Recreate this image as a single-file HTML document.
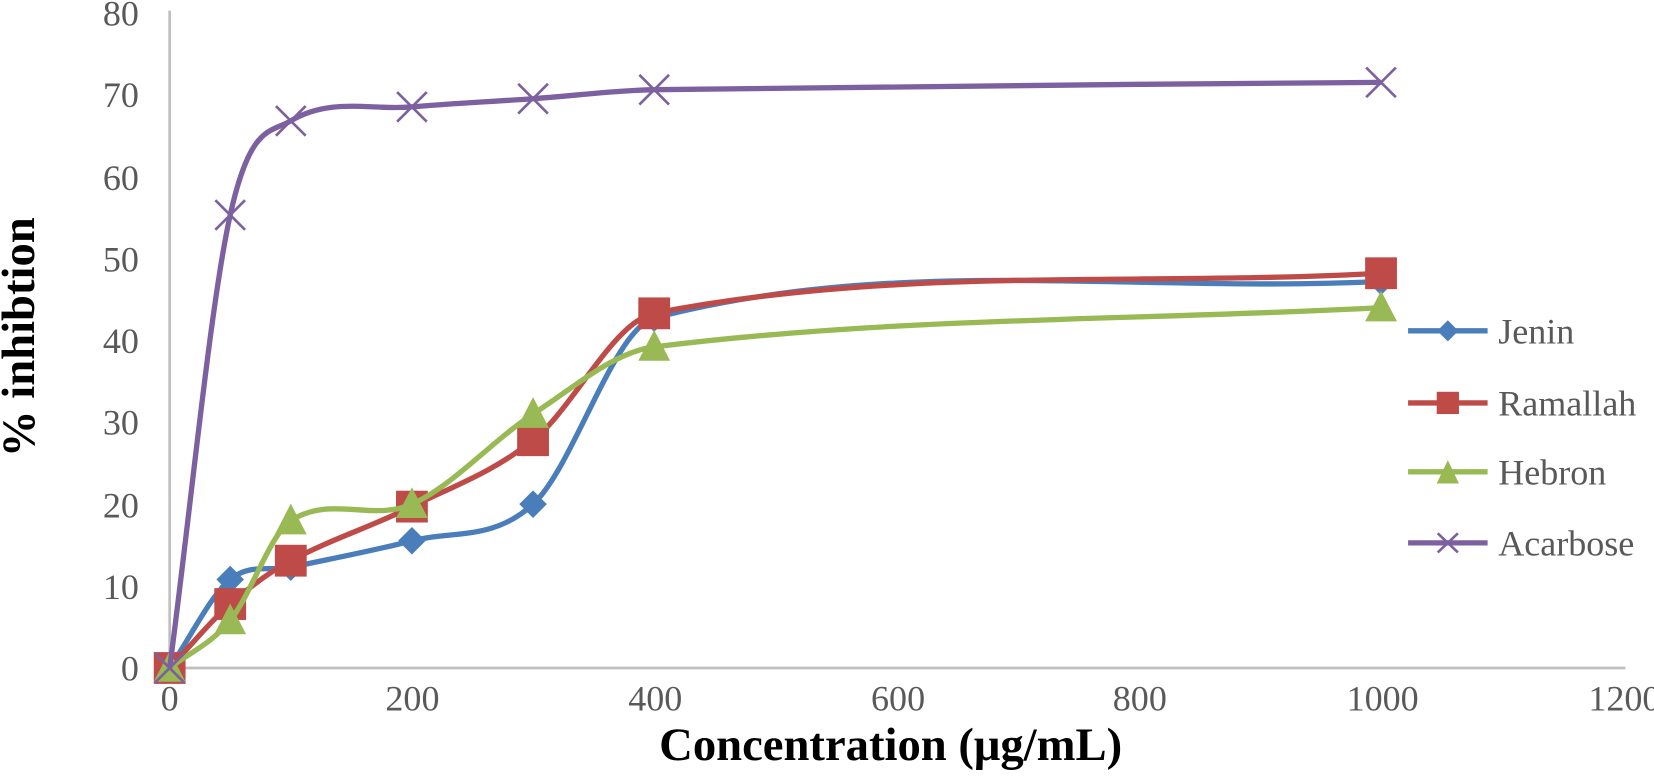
<!DOCTYPE html>
<html><head><meta charset="utf-8"><style>
html,body{margin:0;padding:0;background:#fff;}
svg{display:block;font-family:"Liberation Serif",serif;}
</style></head><body>
<svg width="1654" height="777" viewBox="0 0 1654 777" xmlns="http://www.w3.org/2000/svg">
<g transform="scale(1.0603)">
<line x1="160" y1="10" x2="160" y2="630" stroke="#bfbfbf" stroke-width="2.5"/>
<line x1="160" y1="630" x2="1533" y2="630" stroke="#bfbfbf" stroke-width="2.5"/>
<g fill="#595959" font-size="34" text-anchor="end">
<text x="131" y="642">0</text><text x="131" y="565">10</text><text x="131" y="488">20</text>
<text x="131" y="410">30</text><text x="131" y="333">40</text><text x="131" y="256">50</text>
<text x="131" y="179">60</text><text x="131" y="101">70</text><text x="131" y="24">80</text>
</g>
<g fill="#595959" font-size="34" text-anchor="middle">
<text x="160" y="670">0</text><text x="389" y="670">200</text><text x="618" y="670">400</text>
<text x="847" y="670">600</text><text x="1075" y="670">800</text><text x="1304" y="670">1000</text>
<text x="1532" y="670">1200</text>
</g>
<text x="840" y="717" font-size="44" font-weight="bold" text-anchor="middle" fill="#000">Concentration (μg/mL)</text>
<text transform="translate(32,318) rotate(-90)" font-size="44" font-weight="bold" text-anchor="middle" fill="#000">% inhibtion</text>

<path d="M160 630 C179.03 602.2 198.07 562.4 217.1 546.6 C236.15 530.76 255.2 539.07 274.25 535 C312.33 526.87 350.42 519.92 388.5 510 C426.58 500.08 464.67 510.5 502.75 475.5 C540.83 440.5 578.92 310 617 300 C845.5 239.97 1074 276.9 1302.5 265.4" fill="none" stroke="#4a7ebb" stroke-width="5"/>
<g fill="#4a7ebb">
<path d="M160 617 L173 630 L160 643 L147 630Z"/>
<path d="M217.1 533.6 L230.1 546.6 L217.1 559.6 L204.1 546.6Z"/>
<path d="M274.25 522 L287.25 535 L274.25 548 L261.25 535Z"/>
<path d="M388.5 497 L401.5 510 L388.5 523 L375.5 510Z"/>
<path d="M502.75 462.5 L515.75 475.5 L502.75 488.5 L489.75 475.5Z"/>
<path d="M617 287 L630 300 L617 313 L604 300Z"/>
<path d="M1302.5 252.4 L1315.5 265.4 L1302.5 278.4 L1289.5 265.4Z"/>
</g>

<path d="M160 630 C179.03 609.9 198.07 586.56 217.1 569.7 C236.15 552.83 255.2 539.01 274.25 528.8 C312.33 508.38 350.42 496.73 388.5 477.8 C426.58 458.87 464.67 445.58 502.75 415.2 C540.83 384.82 578.92 303 617 295.5 C845.5 250.5 1074 270.3 1302.5 257.7" fill="none" stroke="#be4b48" stroke-width="5"/>
<g fill="#be4b48">
<rect x="145" y="615" width="30" height="30"/>
<rect x="202.1" y="554.7" width="30" height="30"/>
<rect x="259.25" y="513.8" width="30" height="30"/>
<rect x="373.5" y="462.8" width="30" height="30"/>
<rect x="487.75" y="400.2" width="30" height="30"/>
<rect x="602" y="280.5" width="30" height="30"/>
<rect x="1287.5" y="242.7" width="30" height="30"/>
</g>

<path d="M160 630 C179.03 615.07 198.07 608.35 217.1 585.2 C236.15 562.02 255.2 503.19 274.25 491 C312.33 466.63 350.42 492.25 388.5 475.5 C426.58 458.75 464.67 415.21 502.75 390.5 C540.83 365.79 578.92 331.98 617 327.2 C845.5 298.52 1074 302.46 1302.5 290.1" fill="none" stroke="#98b954" stroke-width="5"/>
<g fill="#98b954">
<path d="M160 614 L175 643 L145 643Z"/>
<path d="M217.1 569.2 L232.1 598.2 L202.1 598.2Z"/>
<path d="M274.25 475 L289.25 504 L259.25 504Z"/>
<path d="M388.5 459.5 L403.5 488.5 L373.5 488.5Z"/>
<path d="M502.75 374.5 L517.75 403.5 L487.75 403.5Z"/>
<path d="M617 311.2 L632 340.2 L602 340.2Z"/>
<path d="M1302.5 274.1 L1317.5 303.1 L1287.5 303.1Z"/>
</g>

<path d="M160 630 C179.03 487.6 198.07 288.74 217.1 202.8 C236.15 116.77 255.2 125.34 274.25 114 C312.33 91.34 350.42 104.28 388.5 100.8 C426.58 97.32 464.67 95.8 502.75 93.1 C540.83 90.4 578.92 85.33 617 84.6 C845.5 80.2 1074 80 1302.5 77.7" fill="none" stroke="#7d60a0" stroke-width="5"/>
<g stroke="#7d60a0" stroke-width="2.5" fill="none">
<path d="M146 616 L174 644 M174 616 L146 644"/>
<path d="M203.1 188.8 L231.1 216.8 M231.1 188.8 L203.1 216.8"/>
<path d="M260.25 100 L288.25 128 M288.25 100 L260.25 128"/>
<path d="M374.5 86.8 L402.5 114.8 M402.5 86.8 L374.5 114.8"/>
<path d="M488.75 79.1 L516.75 107.1 M516.75 79.1 L488.75 107.1"/>
<path d="M603 70.6 L631 98.6 M631 70.6 L603 98.6"/>
<path d="M1288.5 63.7 L1316.5 91.7 M1316.5 63.7 L1288.5 91.7"/>
</g>

<g fill="#595959" font-size="34">
<text x="1413" y="324">Jenin</text><text x="1413" y="392">Ramallah</text>
<text x="1413" y="457">Hebron</text><text x="1413" y="524">Acarbose</text>
</g>
<line x1="1328" y1="312" x2="1403" y2="312" stroke="#4a7ebb" stroke-width="5"/>
<path d="M1365.5 302 L1375.5 312 L1365.5 322 L1355.5 312Z" fill="#4a7ebb"/>
<line x1="1328" y1="380" x2="1403" y2="380" stroke="#be4b48" stroke-width="5"/>
<rect x="1355" y="369.5" width="21" height="21" fill="#be4b48"/>
<line x1="1328" y1="445" x2="1403" y2="445" stroke="#98b954" stroke-width="5"/>
<path d="M1365.5 434 L1376 456 L1355 456Z" fill="#98b954"/>
<line x1="1328" y1="512" x2="1403" y2="512" stroke="#7d60a0" stroke-width="5"/>
<path d="M1356 503 L1375 521 M1375 503 L1356 521" stroke="#7d60a0" stroke-width="2.5"/>
</g>
</svg>
</body></html>
